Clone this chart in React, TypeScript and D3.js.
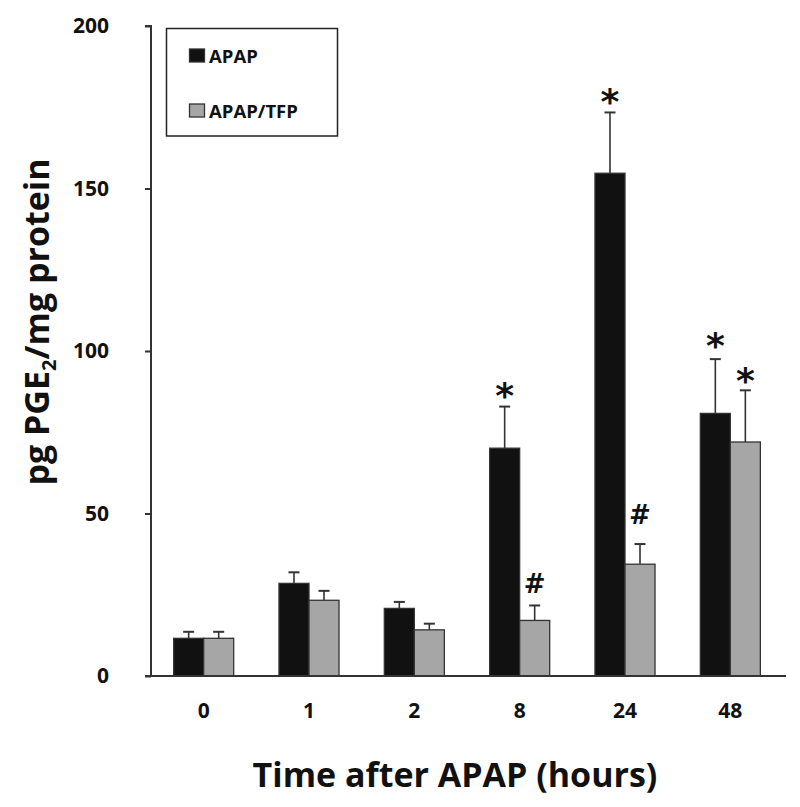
import React, { useEffect, useRef } from "react";
import * as d3 from "d3";

// time points (hours)
const categories = ["0", "1", "2", "8", "24", "48"];
const seriesNames = ["APAP", "APAP/TFP"];
const apapMean = [11.6, 28.5, 20.8, 70.1, 154.7, 80.8];
const apapErr = [2.0, 3.4, 2.0, 12.8, 18.7, 16.7];
const tfpMean = [11.6, 23.3, 14.2, 17.1, 34.4, 72.0];
const tfpErr = [2.0, 2.9, 1.9, 4.6, 6.2, 15.9];
const yTicks = [0, 50, 100, 150, 200];

// significance marks: [category, series index, symbol, value where the mark sits]
const marks: [string, number, string, number][] = [
  ["8", 0, "*", 89],
  ["24", 0, "*", 179.3],
  ["48", 0, "*", 104.2],
  ["48", 1, "*", 93.6],
  ["8", 1, "#", 28.5],
  ["24", 1, "#", 50],
];

const colors = ["#111111", "#a6a6a6"];
const FONT = "'Open Sans', Lato, sans-serif";

export default function App() {
  const svgRef = useRef<SVGSVGElement>(null);

  useEffect(() => {
    const svg = d3.select(svgRef.current);
    svg.selectAll("*").remove();

    const left = 151,
      right = 783,
      top = 26,
      bottom = 676;

    const y = d3.scaleLinear().domain([0, 200]).range([bottom, top]);
    const x = d3.scaleBand().domain(categories).range([left, right]).paddingInner(0.43).paddingOuter(0.215);
    const xs = d3.scaleBand().domain(["0", "1"]).range([0, x.bandwidth()]);

    const g = svg.append("g");

    const series = [
      { mean: apapMean, err: apapErr },
      { mean: tfpMean, err: tfpErr },
    ];

    series.forEach((s, si) => {
      const sg = g.append("g");
      const data = categories.map((c, i) => ({ c, m: s.mean[i], e: s.err[i] }));
      const cx = (d: { c: string }) => x(d.c)! + xs(String(si))! + xs.bandwidth() / 2;
      // error bars first so the bar covers the lower part
      sg.selectAll("line.err")
        .data(data)
        .join("line")
        .attr("x1", cx)
        .attr("x2", cx)
        .attr("y1", (d) => y(d.m))
        .attr("y2", (d) => y(d.m + d.e))
        .attr("stroke", "#333")
        .attr("stroke-width", 1.6);
      sg.selectAll("line.cap")
        .data(data)
        .join("line")
        .attr("x1", (d) => cx(d) - 5.5)
        .attr("x2", (d) => cx(d) + 5.5)
        .attr("y1", (d) => y(d.m + d.e))
        .attr("y2", (d) => y(d.m + d.e))
        .attr("stroke", "#333")
        .attr("stroke-width", 2);
      sg.selectAll("rect")
        .data(data)
        .join("rect")
        .attr("x", (d) => x(d.c)! + xs(String(si))!)
        .attr("y", (d) => y(d.m))
        .attr("width", xs.bandwidth())
        .attr("height", (d) => bottom - y(d.m))
        .attr("fill", colors[si])
        .attr("stroke", "#333")
        .attr("stroke-width", 1.3);
    });

    // significance marks
    g.selectAll("text.mark")
      .data(marks)
      .join("text")
      .attr("x", (d) => x(d[0])! + xs(String(d[1]))! + xs.bandwidth() / 2)
      .attr("y", (d) => y(d[3]))
      .attr("dy", (d) => (d[2] === "*" ? 21 : 10))
      .attr("text-anchor", "middle")
      .attr("font-family", "'DejaVu Sans', sans-serif")
      .attr("font-weight", "bold")
      .attr("font-size", (d) => (d[2] === "*" ? 36 : 26))
      .attr("fill", "#111")
      .text((d) => d[2]);

    // y axis
    const ya = g.append("g").attr("transform", `translate(${left},0)`);
    ya.call(d3.axisLeft(y).tickValues(yTicks).tickSize(6).tickPadding(36));
    ya.select(".domain").attr("stroke", "#333").attr("stroke-width", 2).attr("d", `M-6,${top}H0V${bottom}`);
    ya.selectAll(".tick line").attr("stroke", "#333").attr("stroke-width", 2);
    ya.selectAll(".tick text")
      .attr("font-family", FONT)
      .attr("font-weight", "bold")
      .attr("font-size", 21)
      .attr("fill", "#111");

    // x axis line
    g.append("line")
      .attr("x1", left - 6)
      .attr("x2", right + 3)
      .attr("y1", bottom)
      .attr("y2", bottom)
      .attr("stroke", "#333")
      .attr("stroke-width", 2);

    g.selectAll("text.xt")
      .data(categories)
      .join("text")
      .attr("x", (d) => x(d)! + x.bandwidth() / 2)
      .attr("y", 718)
      .attr("text-anchor", "middle")
      .attr("font-family", FONT)
      .attr("font-weight", "bold")
      .attr("font-size", 21)
      .attr("fill", "#111")
      .text((d) => d);

    // axis titles
    g.append("text")
      .attr("x", 455)
      .attr("y", 787)
      .attr("text-anchor", "middle")
      .attr("font-family", FONT)
      .attr("font-weight", "bold")
      .attr("font-size", 34)
      .attr("fill", "#111")
      .text("Time after APAP (hours)");

    const yt = g.append("text")
      .attr("transform", "translate(49,322) rotate(-90)")
      .attr("text-anchor", "middle")
      .attr("font-family", FONT)
      .attr("font-weight", "bold")
      .attr("font-size", 34)
      .attr("fill", "#111");
    yt.append("tspan").text("pg PGE");
    yt.append("tspan").attr("font-size", 20).attr("dy", 7).text("2");
    yt.append("tspan").attr("dy", -7).text("/mg protein");

    // legend
    const lg = g.append("g");
    lg.append("rect")
      .attr("x", 166.5)
      .attr("y", 28.5)
      .attr("width", 171)
      .attr("height", 107.5)
      .attr("fill", "white")
      .attr("stroke", "#222")
      .attr("stroke-width", 1.5);
    seriesNames.forEach((n, i) => {
      const yy = 49 + i * 55;
      lg.append("rect")
        .attr("x", 189.5)
        .attr("y", yy)
        .attr("width", 15)
        .attr("height", 13)
        .attr("fill", colors[i])
        .attr("stroke", "#333")
        .attr("stroke-width", 1.3);
      lg.append("text")
        .attr("x", 209)
        .attr("y", yy + 14)
        .attr("font-family", FONT)
        .attr("font-weight", "bold")
        .attr("font-size", 18.5)
        .attr("fill", "#111")
        .text(n);
    });
  }, []);

  return (
    <svg
      ref={svgRef}
      width={800}
      height={807}
      style={{ position: "absolute", left: 0, top: 0, background: "white" }}
    />
  );
}
